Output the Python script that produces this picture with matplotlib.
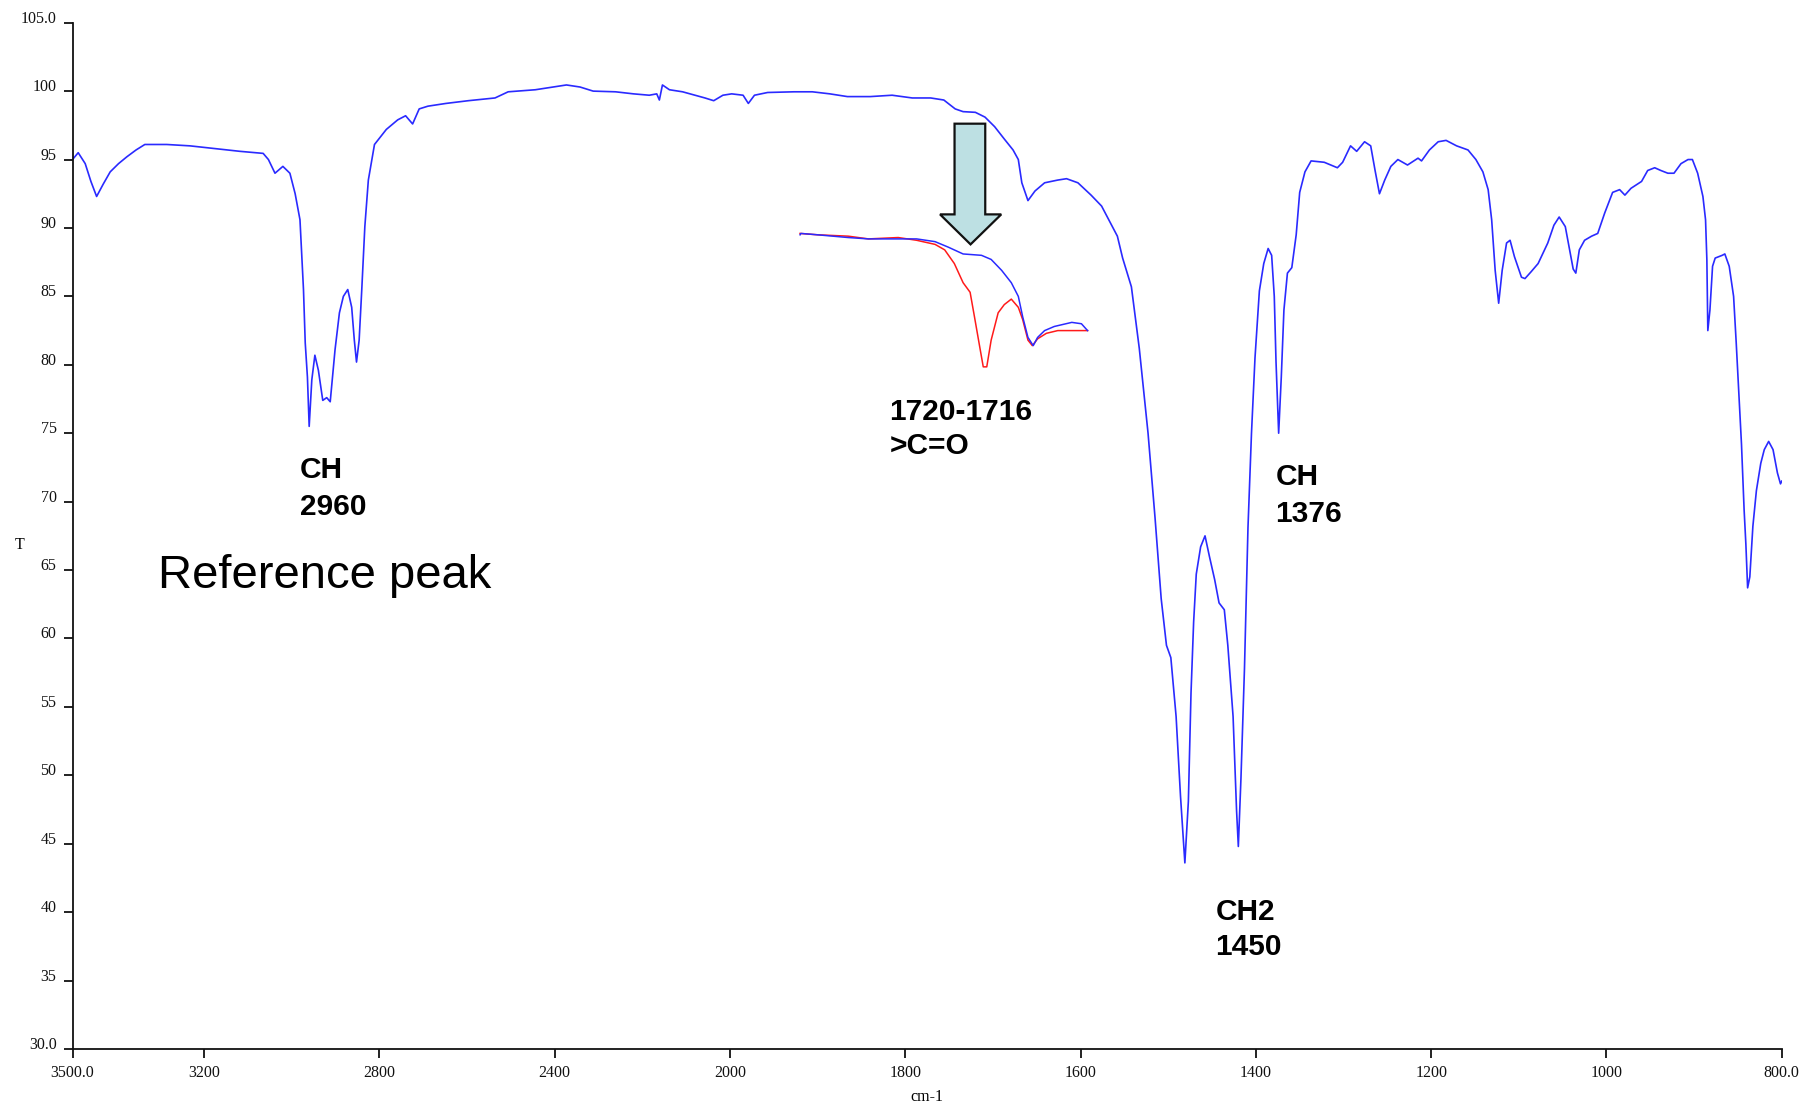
import numpy as np
import matplotlib
matplotlib.use('Agg')
import matplotlib.pyplot as plt
from matplotlib.patches import Polygon
import matplotlib.transforms as mtrans

plt.rcParams['font.family'] = ['Liberation Serif', 'DejaVu Serif']

# ---------------- data ----------------
wavenumber = [
    3500, 3487, 3471, 3458, 3445, 3430, 3414, 3395, 3376, 3355, 3335, 3285, 3232, 3175, 3118,
    3065, 3053, 3038, 3020, 3004, 2992, 2981, 2973, 2969, 2964, 2960, 2954, 2947, 2939, 2929,
    2920, 2912, 2901, 2891, 2882, 2872, 2863, 2857, 2852, 2846, 2840, 2833, 2825, 2811, 2784,
    2758, 2740, 2724, 2709, 2689, 2648, 2597, 2536, 2506, 2444, 2403, 2373, 2342, 2312, 2261,
    2220, 2184, 2167, 2161, 2154, 2138, 2108, 2057, 2037, 2016, 1998, 1985, 1979, 1972, 1957,
    1927, 1906, 1886, 1866, 1840, 1815, 1792, 1771, 1756, 1743, 1734, 1720, 1709, 1698, 1687,
    1677, 1671, 1667, 1660, 1652, 1641, 1626, 1616, 1603, 1588, 1576, 1567, 1558, 1552, 1542,
    1533, 1523, 1515, 1508, 1502, 1497, 1491, 1486, 1481, 1477, 1474, 1471, 1468, 1463, 1458,
    1453, 1447, 1442, 1436, 1432, 1426, 1422, 1420, 1417, 1413, 1409, 1405, 1401, 1396, 1391,
    1386, 1382, 1379, 1377, 1374, 1371, 1368, 1364, 1359, 1354, 1350, 1344, 1337, 1322, 1307,
    1301, 1292, 1285, 1276, 1269, 1264, 1259, 1253, 1246, 1238, 1227, 1215, 1211, 1202, 1192,
    1183, 1171, 1158, 1149, 1141, 1135, 1131, 1127, 1123, 1119, 1114, 1110, 1105, 1097, 1093,
    1086, 1078, 1067, 1060, 1054, 1047, 1042, 1038, 1035, 1031, 1025, 1017, 1010, 1002, 993,
    985, 979, 972, 960, 953, 945, 938, 930, 923, 915, 907, 902, 896, 890, 887,
    885.5, 884.4, 882, 879, 876, 868, 865, 860, 855, 852, 849, 846, 843, 841, 839,
    836.5, 833, 829, 824, 820, 815, 810, 805, 801.5, 800]
transmittance = [
    95.0, 95.5, 94.7, 93.4, 92.3, 93.2, 94.1, 94.7, 95.2, 95.7, 96.1, 96.1, 96.0, 95.8, 95.6,
    95.45, 95.0, 94.0, 94.5, 94.0, 92.5, 90.6, 85.5, 81.6, 79.1, 75.5, 78.9, 80.7, 79.6, 77.4,
    77.6, 77.3, 81.1, 83.8, 85.0, 85.5, 84.2, 81.8, 80.2, 81.8, 85.5, 90.1, 93.5, 96.1, 97.2,
    97.9, 98.2, 97.6, 98.7, 98.9, 99.1, 99.3, 99.5, 99.95, 100.1, 100.3, 100.45, 100.3, 100.0, 99.95,
    99.8, 99.7, 99.8, 99.35, 100.45, 100.1, 99.95, 99.5, 99.3, 99.7, 99.8, 99.7, 99.1, 99.7, 99.9,
    99.95, 99.95, 99.8, 99.6, 99.6, 99.7, 99.5, 99.5, 99.35, 98.7, 98.5, 98.45, 98.1, 97.4, 96.5,
    95.7, 95.0, 93.3, 92.0, 92.7, 93.3, 93.5, 93.6, 93.3, 92.4, 91.6, 90.5, 89.4, 87.8, 85.7,
    81.2, 75.0, 68.8, 62.9, 59.5, 58.6, 54.3, 48.5, 43.6, 48.1, 56.0, 61.2, 64.7, 66.7, 67.5,
    66.0, 64.3, 62.6, 62.1, 59.5, 54.3, 47.4, 44.8, 49.8, 57.8, 68.1, 75.0, 80.5, 85.4, 87.4,
    88.5, 88.0, 85.0, 80.2, 75.0, 79.1, 84.0, 86.7, 87.1, 89.5, 92.6, 94.1, 94.9, 94.8, 94.4,
    94.8, 96.0, 95.6, 96.3, 96.0, 94.2, 92.5, 93.5, 94.5, 95.0, 94.6, 95.1, 94.9, 95.7, 96.3,
    96.4, 96.0, 95.7, 95.0, 94.1, 92.8, 90.6, 86.9, 84.5, 86.9, 88.9, 89.1, 87.9, 86.4, 86.3,
    86.8, 87.4, 88.9, 90.2, 90.8, 90.1, 88.4, 87.0, 86.7, 88.4, 89.1, 89.4, 89.6, 91.1, 92.6,
    92.8, 92.4, 92.9, 93.4, 94.2, 94.4, 94.2, 94.0, 94.0, 94.7, 95.0, 95.0, 94.0, 92.3, 90.6,
    87.7, 82.5, 84.0, 87.2, 87.8, 88.0, 88.1, 87.2, 85.0, 81.6, 77.9, 74.2, 69.4, 66.9, 63.7,
    64.5, 68.2, 70.8, 72.8, 73.8, 74.4, 73.8, 72.1, 71.3, 71.5]

inset_blue_wn = [1920, 1919, 1900, 1865, 1842, 1816, 1787, 1766, 1751, 1734, 1713, 1702, 1690,
                 1679, 1671, 1666, 1660, 1654, 1649, 1641, 1630, 1610, 1599, 1592]
inset_blue_t = [89.5, 89.6, 89.5, 89.3, 89.2, 89.2, 89.2, 89.0, 88.6, 88.1, 88.0, 87.7, 86.9,
                86.0, 85.0, 83.5, 82.0, 81.4, 82.0, 82.5, 82.8, 83.1, 83.0, 82.5]
inset_red_wn = [1920, 1900, 1865, 1842, 1808, 1787, 1766, 1755, 1744, 1734, 1726, 1721, 1715,
                1711, 1707, 1702, 1694, 1687, 1679, 1671, 1666, 1660, 1655, 1649, 1639, 1626,
                1610, 1592]
inset_red_t = [89.6, 89.5, 89.4, 89.2, 89.3, 89.1, 88.8, 88.4, 87.4, 86.0, 85.3, 83.5, 81.3,
               79.85, 79.85, 81.8, 83.8, 84.4, 84.8, 84.2, 83.3, 81.8, 81.4, 81.9, 82.3, 82.5,
               82.5, 82.5]

x_ticks = [3500, 3200, 2800, 2400, 2000, 1800, 1600, 1400, 1200, 1000, 800]
x_tick_labels = ['3500.0', '3200', '2800', '2400', '2000', '1800', '1600', '1400', '1200',
                 '1000', '800.0']
y_ticks = [30, 35, 40, 45, 50, 55, 60, 65, 70, 75, 80, 85, 90, 95, 100, 105]
y_tick_labels = ['30.0', '35', '40', '45', '50', '55', '60', '65', '70', '75', '80', '85',
                 '90', '95', '100', '105.0']

# (label text, wavenumber, T) for band annotations (text anchored at first-line baseline)
band_labels = [
    ('CH', 2982, 71.7), ('2960', 2982, 69.0),
    ('1720-1716', 1818, 75.95), ('>C=O', 1818, 73.5),
    ('CH', 1377.5, 71.2), ('1376', 1377.5, 68.5),
    ('CH2', 1446, 39.4), ('1450', 1446, 36.85),
]


# IR spectrum axis: 2x compressed above 2000 cm-1
def fwd(w):
    w = np.asarray(w, dtype=float)
    return np.where(w <= 2000, w, 2000 + (w - 2000) / 2.0)


def inv(u):
    u = np.asarray(u, dtype=float)
    return np.where(u <= 2000, u, 2000 + (u - 2000) * 2.0)


fig = plt.figure(figsize=(18.05, 11.03), dpi=100)
fig.patch.set_facecolor('white')
ax = fig.add_axes([0.04017, 0.04896, 0.94698, 0.93046])
ax.set_xscale('function', functions=(fwd, inv))

blue = '#2a2aff'
ax.plot(wavenumber, transmittance, color=blue, lw=1.2, solid_joinstyle='round')
ax.plot(inset_red_wn, inset_red_t, color='#ff1a1a', lw=1.1, zorder=3)
ax.plot(inset_blue_wn, inset_blue_t, color=blue, lw=1.1, zorder=4)

ax.set_xlim(3500, 800)
ax.set_ylim(30, 105)
ax.set_xticks(x_ticks)
ax.set_xticklabels(x_tick_labels)
ax.set_yticks(y_ticks)
ax.set_yticklabels(y_tick_labels)
ax.xaxis.set_minor_locator(matplotlib.ticker.NullLocator())
ax.yaxis.set_minor_locator(matplotlib.ticker.NullLocator())

for s in ('top', 'right'):
    ax.spines[s].set_visible(False)
for s in ('left', 'bottom'):
    ax.spines[s].set_linewidth(1.3)
    ax.spines[s].set_color('#111111')

ax.tick_params(axis='both', direction='out', length=6.5, width=1.3, colors='#111111',
               labelsize=11.5)
ax.tick_params(axis='y', pad=5)
ax.tick_params(axis='x', pad=5)
for t in ax.yaxis.get_major_ticks():
    t.label1.set_verticalalignment('baseline')

ax.set_xlabel('cm-1', fontsize=11.5, labelpad=6)
ax.set_ylabel('T', fontsize=11.5, rotation=0)
ax.yaxis.set_label_coords(-0.0307, 0.483)

for txt, wn, tv in band_labels:
    ax.text(wn, tv, txt, family=['Liberation Sans', 'DejaVu Sans'], fontweight='bold',
            fontsize=21.5, ha='left', va='baseline', color='black')

ax.text(3305, 63.7, 'Reference peak', family=['Liberation Sans', 'DejaVu Sans'],
        fontsize=34, ha='left', va='baseline', color='black')

# down arrow (shape in inches relative to its tip, tip placed in data coords)
arrow_tip = (1725.5, 88.8)
arrow_shape = [(0.0, 0.0), (-0.305, 0.30), (-0.16, 0.30), (-0.16, 1.207), (0.147, 1.207),
               (0.147, 0.30), (0.307, 0.30)]
trans = fig.dpi_scale_trans + mtrans.ScaledTranslation(arrow_tip[0], arrow_tip[1], ax.transData)
ax.add_patch(Polygon(arrow_shape, closed=True, transform=trans, facecolor='#bde0e3',
                     edgecolor='#111111', lw=1.6, zorder=5, clip_on=False))

fig.savefig('out.png', dpi=100, facecolor='white')
